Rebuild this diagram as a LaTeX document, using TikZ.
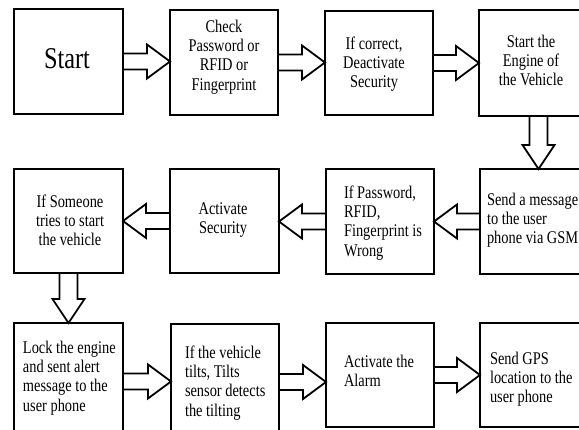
\documentclass[tikz,border=0pt]{standalone}
\usepackage{fontspec}
\setmainfont{Liberation Serif}
\usetikzlibrary{calc}
\newcommand\txl[1]{\scalebox{1}[1.24]{\begin{tabular}{@{}l@{}}#1\end{tabular}}}
\newcommand\txc[1]{\scalebox{1}[1.24]{\begin{tabular}{@{}c@{}}#1\end{tabular}}}
\tikzset{
  box/.style={draw=black, line width=2pt, fill=white, inner sep=0pt, outer sep=0pt, anchor=north west},
  txt/.style={inner sep=0pt, outer sep=0pt, font=\fontsize{14.4}{15.6}\selectfont},
  barr/.style={draw=black, fill=white, line width=1.8pt, line join=miter}
}
\newcommand\arrowR[3]{%
  \coordinate (#3s) at (#1.east);
  \coordinate (#3e) at (#1.east -| #2.west);
  \draw[barr] ($(#3s)+(0,-8)$) -- ($(#3e)+(-23,-8)$) -- ($(#3e)+(-23,-17)$) -- (#3e)
    -- ($(#3e)+(-23,17)$) -- ($(#3e)+(-23,8)$) -- ($(#3s)+(0,8)$) -- cycle;}
\newcommand\arrowL[3]{%
  \coordinate (#3s) at (#1.west);
  \coordinate (#3e) at (#1.west -| #2.east);
  \draw[barr] ($(#3s)+(0,-8)$) -- ($(#3e)+(23,-8)$) -- ($(#3e)+(23,-17)$) -- (#3e)
    -- ($(#3e)+(23,17)$) -- ($(#3e)+(23,8)$) -- ($(#3s)+(0,8)$) -- cycle;}
\newcommand\arrowD[3]{%
  \coordinate (#3s) at (#1.south);
  \coordinate (#3e) at (#1.south |- #2.north);
  \draw[barr] ($(#3s)+(-9,0)$) -- ($(#3e)+(-9,-24)$) -- ($(#3e)+(-16,-24)$) -- (#3e)
    -- ($(#3e)+(16,-24)$) -- ($(#3e)+(9,-24)$) -- ($(#3s)+(9,0)$) -- cycle;}
\begin{document}
\begin{tikzpicture}[x=1pt, y=-1pt]
\useasboundingbox (0,0) rectangle (579,430);
\fill[white] (0,0) rectangle (579,430);
% row 1
\node[box, minimum width=109pt, minimum height=105pt] (b1) at (14,9) {};
\node[box, minimum width=108pt, minimum height=105pt] (b2) at (170,10) {};
\node[box, minimum width=108pt, minimum height=104pt] (b3) at (325,11) {};
\node[box, minimum width=119pt, minimum height=106pt] (b4) at (479,10) {};
% row 2
\node[box, minimum width=119pt, minimum height=105pt] (b5) at (480,169) {};
\node[box, minimum width=108pt, minimum height=105pt] (b6) at (326,169) {};
\node[box, minimum width=109pt, minimum height=104pt] (b7) at (170,169) {};
\node[box, minimum width=109pt, minimum height=104pt] (b8) at (14,169) {};
% row 3
\node[box, minimum width=109pt, minimum height=117pt] (b9) at (14,323) {};
\node[box, minimum width=108pt, minimum height=116pt] (b10) at (171,324) {};
\node[box, minimum width=108pt, minimum height=104pt] (b11) at (326,323) {};
\node[box, minimum width=119pt, minimum height=104pt] (b12) at (480,323) {};
% texts
\node[inner sep=0pt, anchor=base] (t1) at (67,69) {\scalebox{1}[1.24]{\fontsize{24.3}{28}\selectfont Start}};
\node[txt, anchor=north] (t2) at (224,18.5) {\txc{Check\\Password or\\RFID or\\Fingerprint}};
\node[txt, anchor=north] (t3) at (374,35.5) {\txc{If correct,\\Deactivate\\Security}};
\node[txt, anchor=north] (t4) at (531,33.5) {\txc{Start the\\Engine of\\the Vehicle}};
\node[txt, anchor=north west] (t5) at (487,191.5) {\txl{Send a message\\to the user\\phone via GSM}};
\node[txt, anchor=north west] (t6) at (344,184.5) {\txl{If Password,\\RFID,\\Fingerprint is\\Wrong}};
\node[txt, anchor=north] (t7) at (223,200.5) {\txc{Activate\\Security}};
\node[txt, anchor=north] (t8) at (70,193.5) {\txc{If Someone\\tries to start\\the vehicle}};
\node[txt, anchor=north west] (t9) at (23,339.5) {\txl{Lock the engine\\and sent alert\\message to the\\user phone}};
\node[txt, anchor=north west] (t10) at (185,344.5) {\txl{If the vehicle\\tilts, Tilts\\sensor detects\\the tilting}};
\node[txt, anchor=north west] (t11) at (344,353.5) {\txl{Activate the\\Alarm}};
\node[txt, anchor=north west] (t12) at (490,350.5) {\txl{Send GPS\\location to the\\user phone}};
% arrows
\arrowR{b1}{b2}{a1}
\arrowR{b2}{b3}{a2}
\arrowR{b3}{b4}{a3}
\arrowD{b4}{b5}{a4}
\arrowL{b5}{b6}{a5}
\arrowL{b6}{b7}{a6}
\arrowL{b7}{b8}{a7}
\arrowD{b8}{b9}{a8}
\arrowR{b9}{b10}{a9}
\arrowR{b10}{b11}{a10}
\arrowR{b11}{b12}{a11}
\end{tikzpicture}
\end{document}
